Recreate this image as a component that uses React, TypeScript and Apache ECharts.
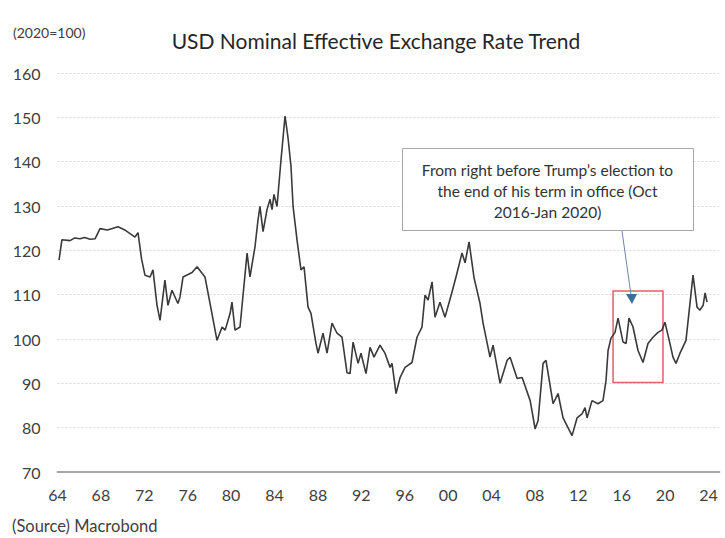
import React, { useEffect, useRef } from "react";
import * as echarts from "echarts";

const years = [
  1964.14, 1964.41, 1965.15, 1965.6, 1966.07, 1966.5, 1967.0, 1967.46, 1967.92, 1968.6,
  1969.58, 1970.2, 1971.14, 1971.42, 1971.75, 1972.06, 1972.53, 1972.8, 1973.17, 1973.45,
  1973.9, 1974.18, 1974.55, 1975.1, 1975.29, 1975.57, 1976.4, 1976.86, 1977.59, 1978.06,
  1978.7, 1979.17, 1979.45, 1979.91, 1980.08, 1980.36, 1980.82, 1981.47, 1981.74, 1982.2,
  1982.48, 1982.66, 1982.94, 1983.31, 1983.59, 1983.77, 1983.95, 1984.23, 1984.6, 1984.69,
  1984.97, 1985.24, 1985.52, 1985.71, 1986.07, 1986.44, 1986.72, 1987.09, 1987.36, 1987.82,
  1988.01, 1988.47, 1988.84, 1989.3, 1989.76, 1990.22, 1990.68, 1990.96, 1991.24, 1991.7,
  1991.97, 1992.43, 1992.8, 1993.17, 1993.72, 1994.18, 1994.65, 1994.83, 1995.2, 1995.57,
  1996.03, 1996.67, 1997.13, 1997.59, 1997.87, 1998.15, 1998.52, 1998.79, 1999.25, 1999.71,
  2000.36, 2000.82, 2001.28, 2001.56, 2001.93, 2002.39, 2002.94, 2003.22, 2003.86, 2004.14,
  2004.79, 2005.44, 2005.71, 2006.36, 2006.82, 2007.56, 2008.02, 2008.29, 2008.75, 2009.02,
  2009.67, 2010.13, 2010.59, 2011.42, 2011.88, 2012.34, 2012.62, 2012.8, 2013.26, 2013.81,
  2014.27, 2014.55, 2014.74, 2015.01, 2015.38, 2015.66, 2016.12, 2016.4, 2016.67, 2017.04,
  2017.5, 2017.96, 2018.42, 2018.88, 2019.34, 2019.71, 2019.98, 2020.44, 2020.72, 2021.0,
  2021.37, 2021.92, 2022.57, 2022.94, 2023.21, 2023.5, 2023.68, 2023.86,
];

const values = [
  117.8, 122.4, 122.2, 122.8, 122.6, 122.9, 122.5, 122.6, 124.9, 124.6,
  125.3, 124.6, 123.0, 124.0, 118.0, 114.4, 114.0, 115.6, 107.6, 104.2,
  113.3, 107.6, 111.0, 108.0, 109.5, 114.0, 115.0, 116.3, 114.0, 108.0,
  99.7, 102.7, 102.0, 105.8, 108.3, 102.0, 102.7, 119.4, 114.0, 120.8,
  126.9, 129.9, 124.2, 129.2, 131.5, 129.2, 132.6, 129.9, 140.5, 142.8,
  150.3, 145.5, 138.9, 129.9, 122.4, 115.6, 116.3, 107.2, 105.8, 99.0,
  96.8, 101.3, 96.8, 103.6, 101.3, 100.4, 92.4, 92.2, 99.3, 94.5,
  96.8, 92.2, 98.1, 95.9, 98.6, 96.8, 93.6, 94.5, 87.7, 91.3,
  93.6, 94.7, 100.4, 102.7, 109.9, 108.8, 112.9, 104.9, 108.3, 104.9,
  110.6, 114.9, 119.4, 117.2, 121.9, 113.8, 108.0, 103.6, 95.9, 98.6,
  90.0, 95.2, 95.9, 91.1, 91.3, 86.1, 79.7, 81.6, 94.5, 95.2,
  85.4, 87.7, 82.2, 78.2, 82.2, 83.1, 84.5, 82.2, 86.1, 85.4,
  86.1, 90.6, 97.4, 100.2, 101.5, 104.7, 99.3, 99.0, 104.7, 102.7,
  97.4, 94.7, 99.0, 100.4, 101.5, 102.0, 103.8, 99.0, 95.9, 94.5,
  96.8, 99.7, 114.4, 107.2, 106.5, 107.6, 110.4, 108.3,
];

const xTickYears = [1964, 1968, 1972, 1976, 1980, 1984, 1988, 1992, 1996, 2000, 2004, 2008, 2012, 2016, 2020, 2024];
const yMin = 70;
const yMax = 160;
const yStep = 10;

const titleText = "USD Nominal Effective Exchange Rate Trend";
const unitText = "(2020=100)";
const sourceText = "(Source) Macrobond";
const noteLines = [
  "From right before Trump\u2019s election to",
  "the end of his term in office (Oct",
  "2016-Jan 2020)",
];
const highlightX = [2015.2, 2019.8];
const highlightY = [90.2, 110.8];

const FONT = "Lato, 'Open Sans', sans-serif";

export default function App() {
  const ref = useRef<HTMLDivElement>(null);

  useEffect(() => {
    document.body.style.margin = "0";
    if (!ref.current) return;
    const chart = echarts.init(ref.current, undefined, { renderer: "svg" });
    const data = years.map((y, i) => [y, values[i]]);

    chart.setOption({
      animation: false,
      backgroundColor: "#ffffff",
      textStyle: { fontFamily: FONT },
      grid: { left: 57.5, right: 5.6, top: 73, bottom: 66 },
      xAxis: {
        type: "value",
        min: 1964,
        max: 2025,
        interval: 4,
        axisLine: { show: true, lineStyle: { color: "#a6a6a6", width: 2 } },
        axisTick: { show: false },
        splitLine: { show: false },
        axisLabel: {
          margin: 14,
          fontSize: 16,
          color: "#404040",
          fontFamily: FONT,
          formatter: (v: number) =>
            xTickYears.includes(Math.round(v)) && Math.abs(v - Math.round(v)) < 1e-6
              ? String(Math.round(v) % 100).padStart(2, "0")
              : "",
        },
      },
      yAxis: {
        type: "value",
        min: yMin,
        max: yMax,
        interval: yStep,
        axisLine: { show: false },
        axisTick: { show: false },
        splitLine: { show: true, lineStyle: { color: "#d9d9d9", type: [2, 2], width: 1 } },
        axisLabel: { margin: 17, fontSize: 16, color: "#404040", fontFamily: FONT },
      },
      series: [
        {
          type: "line",
          data,
          showSymbol: false,
          symbol: "none",
          lineStyle: { color: "#3a3a3a", width: 1.6 },
          markArea: {
            silent: true,
            itemStyle: { color: "rgba(0,0,0,0)", borderColor: "#e0606c", borderWidth: 1.5 },
            data: [[{ coord: [highlightX[0], highlightY[1]] }, { coord: [highlightX[1], highlightY[0]] }]],
          },
        },
      ],
      graphic: [
        {
          type: "text",
          left: 13,
          top: 25,
          style: { text: unitText, font: `14px ${FONT}`, fill: "#404040" },
        },
        {
          type: "text",
          x: 376,
          y: 40,
          style: {
            text: titleText,
            font: `21px ${FONT}`,
            fill: "#262626",
            textAlign: "center",
            textVerticalAlign: "middle",
          },
        },
        {
          type: "text",
          x: 12,
          y: 526,
          style: {
            text: sourceText,
            font: `16.5px ${FONT}`,
            fill: "#404040",
            textAlign: "left",
            textVerticalAlign: "middle",
          },
        },
        {
          type: "rect",
          shape: { x: 402.5, y: 148.5, width: 291, height: 82 },
          style: { fill: "#ffffff", stroke: "#a6a6a6", lineWidth: 1 },
          z: 100,
        },
        ...noteLines.map((t, i) => ({
          type: "text",
          x: 547.5,
          y: 170 + i * 21,
          z: 101,
          style: {
            text: t,
            font: `15.5px ${FONT}`,
            fill: "#333333",
            textAlign: "center",
            textVerticalAlign: "middle",
          },
        })),
        {
          type: "line",
          shape: { x1: 622, y1: 231, x2: 631, y2: 295 },
          style: { stroke: "#6a86a8", lineWidth: 1 },
          z: 100,
        },
        {
          type: "polygon",
          shape: { points: [[626, 294], [637, 294], [632, 304]] },
          style: { fill: "#3d6f9e" },
          z: 100,
        },
      ],
    });

    return () => chart.dispose();
  }, []);

  return <div ref={ref} style={{ width: 725, height: 538 }} />;
}
